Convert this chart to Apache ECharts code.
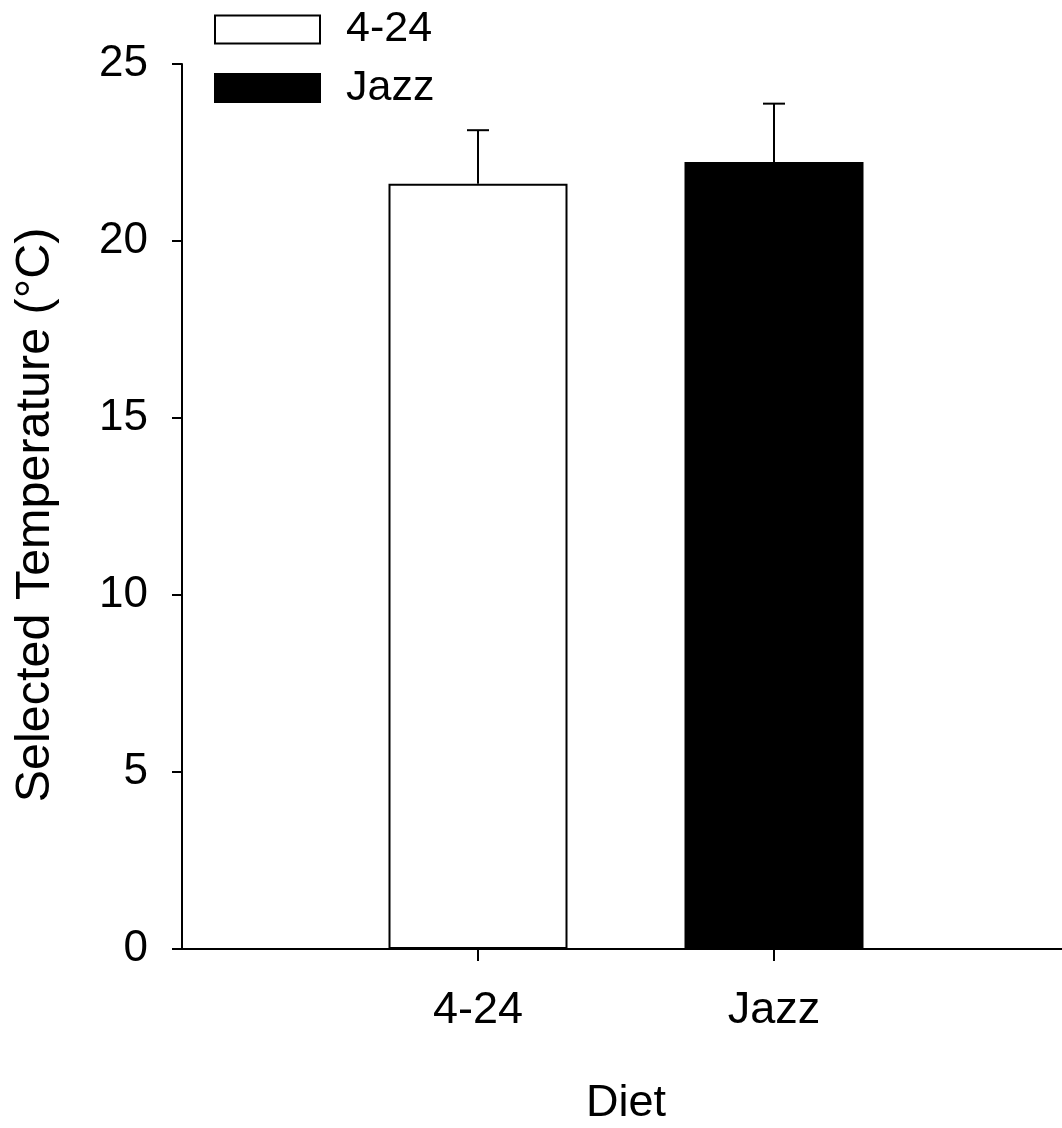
<!DOCTYPE html>
<html>
<head>
<meta charset="utf-8">
<script src="https://cdn.jsdelivr.net/npm/echarts@6/dist/echarts.min.js"></script>
<style>html,body{margin:0;padding:0;background:#fff}#c{width:1062px;height:1128px}</style>
</head>
<body>
<div id="c"></div>
<script>
// Data
const categories = ['', '4-24', 'Jazz', ''];
const groups = ['4-24', 'Jazz'];
const groupIndex = [1, 2];
const means = [21.62, 22.23];
const errors = [1.51, 1.65];
const groupFill = ['#ffffff', '#000000'];
const yMin = 0, yMax = 25, yStep = 5;

const FONT = "'Liberation Sans', Arial, sans-serif";
const chart = echarts.init(document.getElementById('c'), null, {renderer: 'canvas'});

const barSeries = groups.map((g, i) => {
  const data = categories.map(() => null);
  data[groupIndex[i]] = means[i];
  return {
    name: g,
    type: 'bar',
    data: data,
    barWidth: 179,
    barGap: '-100%',
    itemStyle: {color: groupFill[i], borderColor: '#000', borderWidth: 2},
    emphasis: {disabled: true},
    z: 2
  };
});

const errData = groups.map((g, i) => [groupIndex[i], means[i], means[i] + errors[i]]);

option = {
  backgroundColor: '#fff',
  animation: false,
  textStyle: {fontFamily: FONT},
  grid: {left: 182, top: 64, width: 888, bottom: 179, containLabel: false, outerBoundsMode: 'none'},
  legend: {
    data: groups,
    orient: 'vertical',
    left: 214, top: 8, padding: 0,
    itemWidth: 105, itemHeight: 28, itemGap: 15.5,
    icon: 'rect',
    selectedMode: false,
    itemStyle: {borderColor: '#000', borderWidth: 2},
    textStyle: {fontSize: 43, color: '#000', fontFamily: FONT, padding: [2, 0, 0, 21]}
  },
  xAxis: {
    type: 'category',
    data: categories,
    boundaryGap: false,
    name: 'Diet',
    nameLocation: 'middle',
    nameGap: 132,
    nameTextStyle: {fontSize: 45, color: '#000', fontFamily: FONT},
    axisLine: {lineStyle: {color: '#000', width: 2}},
    axisTick: {show: true, length: 12, lineStyle: {color: '#000', width: 2},
      interval: function (idx) { return idx === 1 || idx === 2; }},
    axisLabel: {interval: 0, fontSize: 45, color: '#000', fontFamily: FONT, margin: 39},
    splitLine: {show: false}
  },
  yAxis: {
    type: 'value',
    min: yMin, max: yMax, interval: yStep,
    name: 'Selected Temperature (°C)',
    nameLocation: 'middle',
    nameGap: 122,
    nameTextStyle: {fontSize: 48.5, color: '#000', fontFamily: FONT, padding: [0, 17, 0, 0]},
    axisLine: {show: true, lineStyle: {color: '#000', width: 2}},
    axisTick: {show: true, length: 10, lineStyle: {color: '#000', width: 2}},
    axisLabel: {fontSize: 44, color: '#000', fontFamily: FONT, margin: 34},
    splitLine: {show: false}
  },
  series: barSeries.concat([{
    type: 'custom',
    name: 'err',
    data: errData,
    encode: {x: 0, y: [1, 2]},
    z: 3,
    renderItem: function (params, api) {
      const base = api.coord([api.value(0), api.value(1)]);
      const top = api.coord([api.value(0), api.value(2)]);
      const hw = 11;
      const style = {stroke: '#000', lineWidth: 2, fill: null};
      return {
        type: 'group',
        children: [
          {type: 'line', shape: {x1: base[0], y1: base[1], x2: top[0], y2: top[1]}, style: style},
          {type: 'line', shape: {x1: top[0] - hw, y1: top[1], x2: top[0] + hw, y2: top[1]}, style: style}
        ]
      };
    }
  }])
};
chart.setOption(option);
</script>
</body>
</html>
